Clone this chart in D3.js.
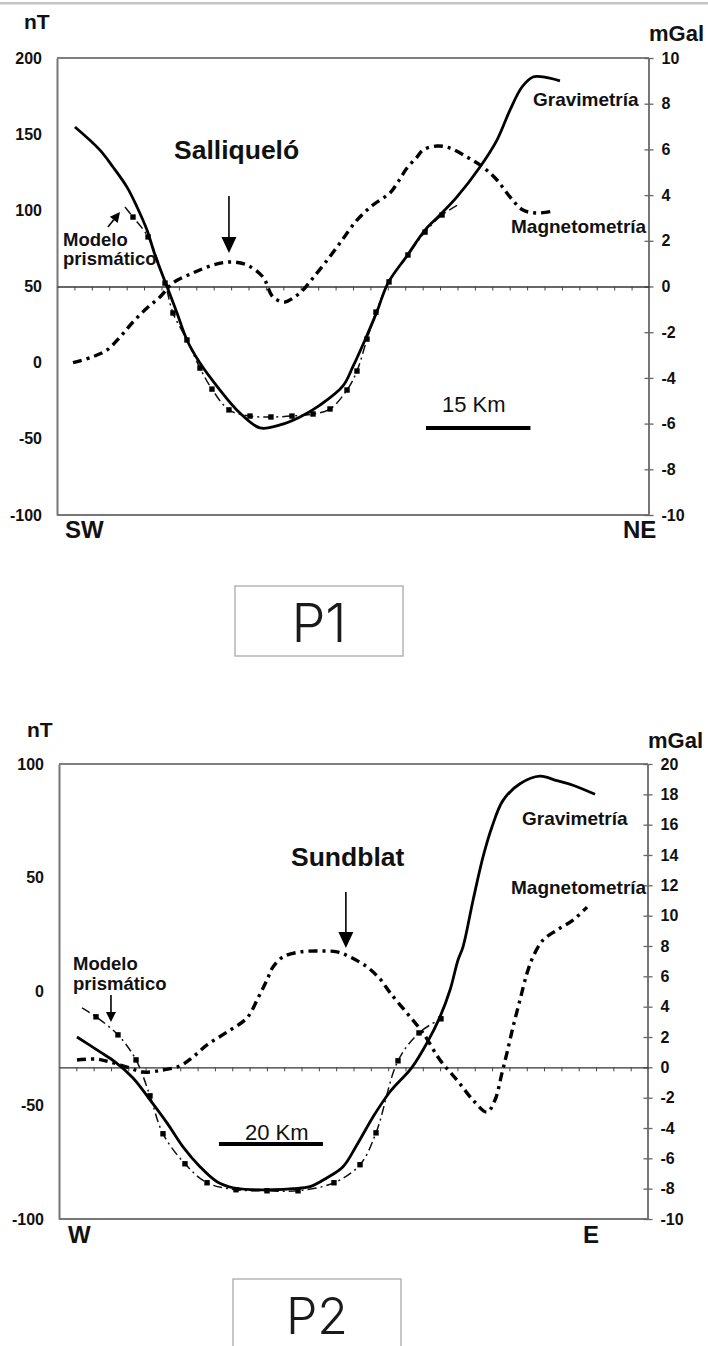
<!DOCTYPE html>
<html><head><meta charset="utf-8">
<script src="https://cdn.jsdelivr.net/npm/d3@7"></script>
<style>
body{margin:0;background:#fff}
svg{display:block}
text{font-family:"Liberation Sans",Arial,sans-serif;fill:#111}
</style>
</head><body>
<svg id="c" width="708" height="1346"></svg>
<script>
// ---------- P1 : Salliqueló (x in km, gravity & model in mGal, magnetics in nT) ----------
const p1Gravity = [[2.58,6.98],[6.17,5.97],[8.04,5.23],[10.05,4.35],[11.49,3.48],[12.92,2.47],[14.07,1.38],[15.79,0],
  [17.23,-1.16],[18.66,-2.34],[20.53,-3.35],[23.40,-4.53],[26.27,-5.54],[29.15,-6.19],[32.02,-6.06],[34.89,-5.71],
  [37.76,-5.19],[41.06,-4.35],[42.50,-3.5],[44.22,-2.34],[45.94,-1.1],[47.52,0.15],[50.25,1.34],[52.84,2.47],
  [54.99,3.13],[57.43,3.92],[60.73,5.23],[63.17,6.41],[65.04,7.72],[66.76,8.73],[68.34,9.17],[69.78,9.17],[72.22,9.0]];
const p1Magnetic = [[2.30,0],[5.03,3.7],[7.18,8.3],[9.05,16.8],[10.91,26.7],[12.92,35.9],[14.79,43.1],[16.65,52.3],
  [19.53,58.9],[22.40,64.1],[24.84,66.1],[27.28,64.1],[29.58,56.2],[31.01,43.1],[32.74,39.8],[33.88,42.4],
  [35.32,47.7],[36.76,55.6],[38.48,65.4],[40.63,78.5],[43.07,93.6],[45.37,103.5],[47.81,111.4],[48.96,118.6],
  [50.25,127.8],[51.69,135],[52.55,139.6],[54.56,142.2],[56.43,140.9],[58.87,135],[61.16,128.4],[63.17,119.9],
  [65.04,108.8],[66.91,100.2],[68.92,98.2],[71.21,99.5]];
// [km, mGal, hasMarker]
const p1Model = [[9.76,3.48,0],[10.91,3.04,1],[13.07,2.17,1],[15.51,0.15,1],[16.65,-1.16,1],[18.66,-2.34,1],
  [20.53,-3.57,1],[22.25,-4.49,1],[24.69,-5.4,1],[27.71,-5.67,1],[30.72,-5.71,1],[33.74,-5.67,1],[36.76,-5.58,1],
  [39.20,-5.36,1],[41.64,-4.53,1],[43.07,-3.7,1],[44.51,-2.3,1],[45.80,-1.12,1],[47.67,0.2,1],[50.39,1.38,1],
  [52.84,2.38,1],[55.28,3.13,1],[57.57,3.57,0]];
const p1NtTicks = [-100,-50,0,50,100,150,200];
const p1MgalTicks = [-10,-8,-6,-4,-2,0,2,4,6,8,10];

// ---------- P2 : Sundblat ----------
const p2Gravity = [[3.46,2.0],[7.89,1.02],[10.78,0.36],[14.24,-0.7],[17.51,-2.14],[20.78,-3.66],[23.86,-5.24],
  [27.13,-6.55],[30.40,-7.54],[33.48,-7.94],[37.33,-8.07],[41.18,-8.07],[45.03,-8.0],[48.30,-7.87],[51.57,-7.28],
  [54.65,-6.55],[57.34,-5.1],[60.42,-3.27],[63.69,-1.61],[67.92,0],[70.81,1.61],[73.31,3.33],[75.24,5.1],
  [76.78,7.08],[77.74,7.94],[79.66,11.0],[81.59,13.87],[83.32,15.86],[85.44,17.6],[88.70,18.7],[92.55,19.2],
  [95.82,18.9],[98.90,18.6],[103.14,18.0]];
const p2Magnetic = [[3.46,-30.1],[7.31,-29.7],[9.81,-31],[13.08,-33.2],[16.16,-35.4],[20.01,-34.5],[23.28,-32.7],
  [25.78,-28.8],[28.48,-23.5],[32.33,-17.8],[36.17,-11.6],[38.29,-2.9],[40.02,5.1],[41.18,10.8],[43.10,15.2],
  [46.37,17.4],[50.22,17.8],[53.49,17.4],[55.99,15.2],[59.26,10.8],[61.77,5.5],[63.69,-0.5],[66.96,-9.5],
  [70.04,-18.2],[73.31,-30.1],[76.58,-38.9],[79.66,-47.7],[82.36,-53],[83.89,-47.7],[85.24,-35.8],[86.20,-27],
  [87.36,-15.6],[88.70,-3.7],[90.05,8],[91.21,15.2],[93.13,22.6],[95.82,27],[98.90,31.4],[101.60,37.1]];
const p2Model = [[4.43,3.92,0],[7.12,3.33,1],[11.35,2.14,1],[14.82,0.49,1],[17.51,-1.88,1],[20.01,-4.38,1],
  [24.24,-6.36,1],[28.48,-7.61,1],[34.06,-8.07,1],[40.02,-8.14,1],[45.99,-8.14,1],[52.91,-7.61,1],[57.92,-6.42,1],
  [61.00,-4.32,1],[65.23,0.43,1],[69.27,2.27,1],[73.50,3.2,1]];
const p2NtTicks = [-100,-50,0,50,100];
const p2MgalTicks = [-10,-8,-6,-4,-2,0,2,4,6,8,10,12,14,16,18,20];

const svg = d3.select("#c");
// thin grey rule at the very top
svg.append("rect").attr("x",0).attr("y",2).attr("width",708).attr("height",2.5).attr("fill","#c4c4c4");

const fmt = d => String(d);

function panel(o){
  const x = d3.scaleLinear().domain([0,o.kmMax]).range([o.L,o.R]);
  const yN = d3.scaleLinear().domain(o.ntDom).range([o.B,o.T]);
  const yG = d3.scaleLinear().domain(o.mgDom).range([o.B,o.T]);
  const g = svg.append("g");

  // frame
  g.append("line").attr("x1",o.L).attr("x2",o.R).attr("y1",o.T).attr("y2",o.T).attr("stroke","#555").attr("stroke-width",1.3);
  g.append("line").attr("x1",o.L).attr("x2",o.R).attr("y1",o.B).attr("y2",o.B).attr("stroke","#777").attr("stroke-width",2);

  // left axis (nT)
  const la = g.append("g").attr("transform",`translate(${o.L},0)`)
    .call(d3.axisLeft(yN).tickValues(o.ntTicks).tickSize(0).tickPadding(15).tickFormat(fmt));
  la.select(".domain").attr("stroke","#777").attr("stroke-width",2);
  la.selectAll("text").attr("font-size",16).attr("font-weight","bold").attr("fill","#111")
    .attr("font-family","Liberation Sans, Arial, sans-serif");

  // right axis (mGal)
  const ra = g.append("g").attr("transform",`translate(${o.R},0)`)
    .call(d3.axisRight(yG).tickValues(o.mgTicks).tickSize(4.5).tickPadding(8).tickFormat(fmt));
  ra.select(".domain").attr("stroke","#777").attr("stroke-width",2).attr("d",`M0,${o.T}V${o.B}`);
  ra.selectAll(".tick line").attr("x1",-4.5).attr("x2",4.5).attr("stroke","#666").attr("stroke-width",1.3);
  ra.selectAll("text").attr("font-size",16).attr("font-weight","bold").attr("fill","#111")
    .attr("font-family","Liberation Sans, Arial, sans-serif");

  // zero line with distance ticks
  const step = o.tickStep;
  const za = g.append("g").attr("transform",`translate(0,${yG(0)})`)
    .call(d3.axisBottom(x).tickValues(d3.range(step, o.kmMax-step*0.5, step)).tickSize(4).tickSizeOuter(0).tickFormat(""));
  za.select(".domain").attr("stroke","#333").attr("stroke-width",1.3);
  za.selectAll(".tick line").attr("stroke","#444").attr("stroke-width",1);

  const curve = d3.curveCatmullRom.alpha(0.5);
  // magnetometry (nT)
  g.append("path").datum(o.mag)
    .attr("d", d3.line().x(d=>x(d[0])).y(d=>yN(d[1])).curve(curve))
    .attr("fill","none").attr("stroke","#000").attr("stroke-width",3.4).attr("stroke-dasharray","9,5,3,5");
  // model (mGal)
  g.append("path").datum(o.model)
    .attr("d", d3.line().x(d=>x(d[0])).y(d=>yG(d[1])).curve(curve))
    .attr("fill","none").attr("stroke","#111").attr("stroke-width",1.5).attr("stroke-dasharray","9,4,2,4");
  g.selectAll(null).data(o.model.filter(d=>d[2])).enter().append("rect")
    .attr("x",d=>x(d[0])-2.7).attr("y",d=>yG(d[1])-2.7).attr("width",5.4).attr("height",5.4).attr("fill","#000");
  // gravity (mGal)
  g.append("path").datum(o.grav)
    .attr("d", d3.line().x(d=>x(d[0])).y(d=>yG(d[1])).curve(curve))
    .attr("fill","none").attr("stroke","#000").attr("stroke-width",2.8);

  // arrows
  function arrow(a, head, hw){
    const x1=x(a[0]), y1=yN(a[1]), x2=x(a[2]), y2=yN(a[3]);
    const dx=x2-x1, dy=y2-y1, L=Math.hypot(dx,dy), ux=dx/L, uy=dy/L;
    const bx=x2-ux*head, by=y2-uy*head;
    g.append("line").attr("x1",x1).attr("y1",y1).attr("x2",bx).attr("y2",by).attr("stroke","#000").attr("stroke-width",1.6);
    g.append("path").attr("d",`M${x2},${y2}L${bx-uy*hw/2},${by+ux*hw/2}L${bx+uy*hw/2},${by-ux*hw/2}Z`).attr("fill","#000");
  }
  arrow(o.bigArrow, 16, 15);
  arrow(o.smallArrow, 10, 10);

  // scale bar
  g.append("line").attr("x1",x(o.bar[0])).attr("x2",x(o.bar[0]+o.bar[1])).attr("y1",yN(o.bar[2])).attr("y2",yN(o.bar[2]))
    .attr("stroke","#000").attr("stroke-width",4);

  // texts
  o.texts.forEach(t=>{
    g.append("text").attr("x",t[1]).attr("y",t[2]).attr("font-size",t[3]).attr("font-weight",t[4]?"bold":"normal")
      .attr("text-anchor",t[5]||"start").text(t[0]);
  });

  // profile label box
  g.append("rect").attr("x",o.box[0]).attr("y",o.box[1]).attr("width",o.box[2]).attr("height",o.box[3])
    .attr("fill","none").attr("stroke","#aaa").attr("stroke-width",1.3);
  g.append("text").attr("x",o.box[0]+o.box[2]/2).attr("y",o.box[4]).attr("text-anchor","middle")
    .attr("font-size",o.box[5]).attr("font-weight",300).style("font-family","Inter, 'Noto Sans', sans-serif").style("fill","#1a1a1a")
    .text(o.boxLabel);
}

panel({
  L:57, R:649, T:58, B:515, kmMax:85, tickStep:2.5,
  ntDom:[-100,200], mgDom:[-10,10], ntTicks:p1NtTicks, mgTicks:p1MgalTicks,
  grav:p1Gravity, mag:p1Magnetic, model:p1Model,
  bigArrow:[24.69,109.4,24.69,72.0], smallArrow:[7.32,89.1,9.05,98.9],
  bar:[52.98,15,-42.9],
  texts:[["nT",24,29,21,1],["mGal",649,41,22,1],["SW",65,538,24,1],["NE",623,538,24,1],
         ["Salliqueló",174,159,26.5,1],["Modelo",63,246,18.5,1],["prismático",63,265,18.5,1],
         ["Gravimetría",533,106,19,1],["Magnetometría",511,233,19,1],["15 Km",442,412,22,0]],
  box:[235,586,168,70,642,54], boxLabel:"P1"
});

panel({
  L:59, R:648, T:764, B:1219, kmMax:340/3, tickStep:10/3,
  ntDom:[-100,100], mgDom:[-10,20], ntTicks:p2NtTicks, mgTicks:p2MgalTicks,
  grav:p2Gravity, mag:p2Magnetic, model:p2Model,
  bigArrow:[55.2,43.7,55.2,19.1], smallArrow:[10.0,-1.5,10.0,-13.4],
  bar:[30.79,20,-67.0],
  texts:[["nT",27,737,21,1],["mGal",648,748,22,1],["W",68,1243,24,1],["E",583,1243,24,1],
         ["Sundblat",291,866,26.5,1],["Modelo",73,970,18.5,1],["prismático",73,990,18.5,1],
         ["Gravimetría",522,825,19,1],["Magnetometría",511,894,19,1],["20 Km",245,1140,22,0]],
  box:[233,1279,168,90,1334,50], boxLabel:"P2"
});
</script>
</body></html>
